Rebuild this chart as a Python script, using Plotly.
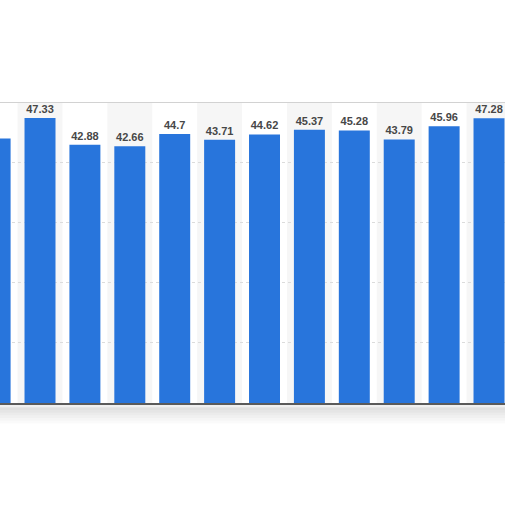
import plotly.graph_objects as go

# columns (index positions) and values
positions = list(range(12))
values = [43.93, 47.33, 42.88, 42.66, 44.7, 43.71, 44.62, 45.37, 45.28, 43.79, 45.96, 47.28]
labels = ["43.93", "47.33", "42.88", "42.66", "44.7", "43.71", "44.62", "45.37", "45.28", "43.79", "45.96", "47.28"]

fig = go.Figure()
fig.add_trace(go.Bar(
    x=positions,
    y=values,
    text=labels,
    textposition="outside",
    textfont=dict(family="Arial, Liberation Sans, sans-serif", size=11, color="#474747", weight="bold"),
    marker=dict(color="#2875dc", line=dict(width=0)),
    width=0.69,
    cliponaxis=False,
    hoverinfo="skip",
))

# alternating column shading like the original
shapes = []
for k in positions:
    if k % 2 == 1:
        shapes.append(dict(type="rect", xref="x", yref="y", x0=k - 0.5, x1=k + 0.5, y0=0, y1=50,
                           fillcolor="#f6f6f6", line=dict(width=0), layer="below"))
# top border of the card
shapes.append(dict(type="line", xref="paper", yref="y", x0=0, x1=1, y0=50, y1=50,
                   line=dict(color="#d2d2d2", width=2)))
# soft shadow under the card
for i, op in enumerate([0.06, 0.12, 0.10, 0.08, 0.06, 0.04, 0.02]):
    shapes.append(dict(type="rect", xref="paper", yref="paper", x0=0, x1=1,
                       y0=-0.014 - i * 0.009, y1=-0.005 - i * 0.009,
                       fillcolor="rgba(0,0,0,%s)" % op, line=dict(width=0), layer="below"))

fig.update_layout(
    width=512, height=512,
    margin=dict(l=0, r=7, t=102, b=109),
    paper_bgcolor="white",
    plot_bgcolor="white",
    showlegend=False,
    shapes=shapes,
    bargap=0.3,
)
fig.update_xaxes(range=[0.109, 11.356], showticklabels=False, showgrid=False, zeroline=False,
                 showline=True, linecolor="#5a5a5a", linewidth=1.5, ticks="")
fig.update_yaxes(range=[0, 50], tickvals=[10, 20, 30, 40], showticklabels=False,
                 showgrid=True, gridcolor="#dcdcdc", griddash="dot", gridwidth=1, zeroline=False)

# page has a default 8px body margin, drop it so the figure sits at 0,0
fig.write_html("out.html", config={"displayModeBar": False},
               post_script="document.body.style.margin='0';")
